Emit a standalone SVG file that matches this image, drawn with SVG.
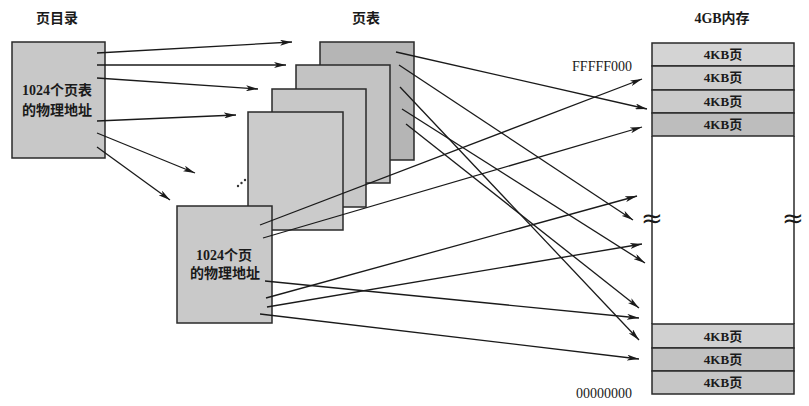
<svg xmlns="http://www.w3.org/2000/svg" width="809" height="406" viewBox="0 0 809 406">
<style>
.box{stroke:#2a2a2a;stroke-width:1.5}
.t{font-family:"Liberation Serif","Noto Sans CJK SC",serif;font-weight:bold;font-size:14px;fill:#1a1a1a;text-anchor:middle}
.m{font-family:"Liberation Serif","Noto Sans CJK SC",serif;font-weight:bold;font-size:13px;fill:#1a1a1a;text-anchor:middle}
.a{font-family:"Liberation Serif",serif;font-size:14px;fill:#1a1a1a;text-anchor:end}
.w{font-family:"DejaVu Sans",sans-serif;font-size:26px;fill:#1a1a1a;text-anchor:middle}
.c line{stroke:#1a1a1a;stroke-width:1.3;marker-end:url(#ah)}
</style>
<defs>
<marker id="ah" viewBox="0 0 12 6" refX="12" refY="3" markerWidth="12" markerHeight="6" markerUnits="userSpaceOnUse" orient="auto">
<path d="M0,0 L12,3 L0,6 L3,3 Z" fill="#1a1a1a"/>
</marker>
</defs>
<rect width="809" height="406" fill="#ffffff"/>
<text class="t" x="57" y="23">页目录</text>
<text class="t" x="366" y="23">页表</text>
<text class="t" x="722" y="23">4GB内存</text>

<g id="pagedir">
<rect class="box" x="12" y="42" width="93" height="116" fill="#c8c8c8"/>
<text class="t" x="57" y="95">1024个页表</text>
<text class="t" x="57" y="115">的物理地址</text>
</g>

<g id="pt4"><rect class="box" x="320" y="42" width="94" height="118" fill="#b5b5b5"/></g>
<g id="pt3"><rect class="box" x="296" y="65" width="94" height="118" fill="#c3c3c3"/></g>
<g id="pt2"><rect class="box" x="272" y="89" width="94" height="118" fill="#c8c8c8"/></g>
<g id="pt1"><rect class="box" x="248" y="112" width="95" height="118" fill="#cbcbcb"/></g>
<g id="dots" fill="#333">
<circle cx="238" cy="186" r="1.2"/><circle cx="241.5" cy="183" r="1.2"/><circle cx="245" cy="180" r="1.2"/>
</g>
<g id="pt0">
<rect class="box" x="177" y="206" width="95" height="117" fill="#c9c9c9"/>
<text class="t" x="224" y="260">1024个页</text>
<text class="t" x="225" y="278">的物理地址</text>
</g>

<g id="memory">
<line x1="652" y1="136" x2="652" y2="324" stroke="#2a2a2a" stroke-width="1.5"/>
<line x1="794" y1="136" x2="794" y2="324" stroke="#2a2a2a" stroke-width="1.5"/>
<rect class="box" x="652" y="43" width="142" height="23" fill="#d4d4d4"/>
<rect class="box" x="652" y="66" width="142" height="24" fill="#cfcfcf"/>
<rect class="box" x="652" y="90" width="142" height="23" fill="#cbcbcb"/>
<rect class="box" x="652" y="113" width="142" height="23" fill="#bdbdbd"/>
<rect class="box" x="652" y="324" width="142" height="24" fill="#d0d0d0"/>
<rect class="box" x="652" y="348" width="142" height="23" fill="#c2c2c2"/>
<rect class="box" x="652" y="371" width="142" height="23" fill="#c6c6c6"/>
<text class="m" x="723" y="59">4KB页</text>
<text class="m" x="723" y="82">4KB页</text>
<text class="m" x="723" y="106">4KB页</text>
<text class="m" x="723" y="129">4KB页</text>
<text class="m" x="723" y="341">4KB页</text>
<text class="m" x="723" y="364">4KB页</text>
<text class="m" x="723" y="387">4KB页</text>
<text class="w" x="652" y="227">≈</text>
<text class="w" x="793" y="227">≈</text>
</g>
<text class="a" x="632" y="71">FFFFF000</text>
<text class="a" x="632" y="398">00000000</text>

<g id="connectors" class="c">
<line x1="97" y1="53" x2="292" y2="42"/>
<line x1="97" y1="65" x2="286" y2="65"/>
<line x1="97" y1="78" x2="258" y2="89"/>
<line x1="97" y1="121" x2="236" y2="115"/>
<line x1="97" y1="133" x2="195" y2="173"/>
<line x1="97" y1="147" x2="170" y2="200"/>

<line x1="396" y1="52" x2="647" y2="109"/>
<line x1="399" y1="65" x2="633" y2="220"/>
<line x1="400" y1="87" x2="639" y2="340"/>
<line x1="402" y1="109" x2="645" y2="263"/>
<line x1="406" y1="124" x2="639" y2="308"/>

<line x1="260" y1="225" x2="642" y2="79"/>
<line x1="263" y1="238" x2="642" y2="127"/>
<line x1="265" y1="281" x2="639" y2="318"/>
<line x1="266" y1="298" x2="637" y2="196"/>
<line x1="267" y1="307" x2="642" y2="244"/>
<line x1="260" y1="314" x2="639" y2="359"/>
</g>
</svg>
